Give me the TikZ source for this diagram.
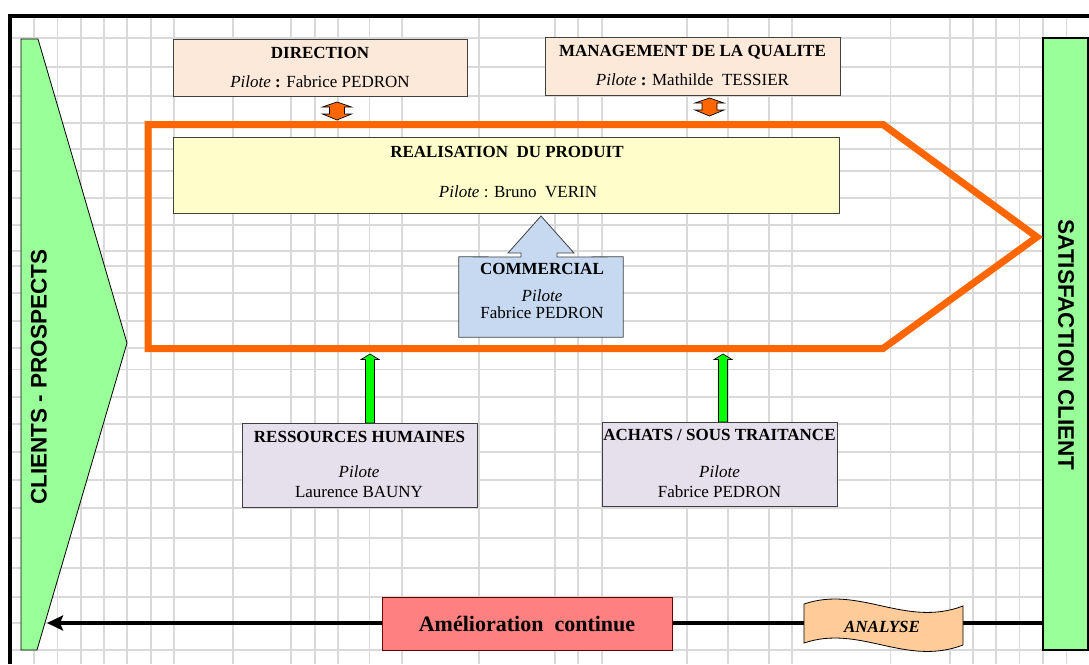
\documentclass[tikz,border=0pt]{standalone}
\usepackage{fontspec}
\setmainfont{Liberation Serif}
\newfontfamily\sidefont{Liberation Sans}
\usetikzlibrary{arrows.meta}

\definecolor{peach}{RGB}{253,233,217}
\definecolor{paleyellow}{RGB}{255,255,204}
\definecolor{paleblue}{RGB}{198,217,241}
\definecolor{lavender}{RGB}{229,224,236}
\definecolor{flashgreen}{RGB}{0,255,0}
\definecolor{lightgreen}{RGB}{153,255,153}
\definecolor{salmon}{RGB}{255,128,128}
\definecolor{apricot}{RGB}{255,204,153}
\definecolor{procorange}{RGB}{255,102,0}

\begin{document}
\begin{tikzpicture}[x=1pt, y=-1pt,
  gridline/.style = {draw=black!15, line width=1.8pt},
  box/.style = {draw=black!75, line width=0.8pt, inner sep=0pt},
  title/.style = {font=\fontsize{17}{20}\selectfont\bfseries, anchor=base, inner sep=0pt},
  pilot/.style = {font=\fontsize{17}{20}\selectfont, anchor=base, inner sep=0pt},
  side/.style = {font=\sidefont\fontsize{22.5}{26}\selectfont\bfseries, inner sep=0pt},
  uparrow/.style = {draw=black, fill=flashgreen, line width=0.7pt},
  dblarrow/.style = {draw=black, fill=procorange, line width=0.7pt}]

\useasboundingbox (0,0) rectangle (1089,664);
\fill[white] (0,0) rectangle (1089,664);

% grid
\foreach \x in {33.7,57.4,81,103.6,127.2,150.9,173.8,232.9,290.9,314.6,338.2,369.5,402.2,479,555,578,601.7,687.2,727.9,768.9,791.8,890.5,949.6,972.9,995.9,1019.5,1043.1,1066.4}
  \draw[gridline] (\x,17) -- (\x,664);
\foreach \y in {38.3,66.7,95.7,122.8,149.3,171,197.7,225,251,265.7,293.3,321,348.3,369.5,396.7,424,452,480,508,538,568,596.7,622.7,650}
  \draw[gridline] (12,\y) -- (1089,\y);
\draw[line width=4pt] (10,664) -- (10,15.5) -- (1089,15.5);

% clients / satisfaction
\draw[fill=lightgreen, line width=0.8pt] (21,39) -- (38,39) -- (127,343) -- (37,650) -- (21,650) -- cycle;
\node[side, rotate=90] (clients) at (39,377) {CLIENTS - PROSPECTS};
\coordinate (cltip) at (47,623);
\node[box, draw=black, line width=1.2pt, fill=lightgreen, minimum width=45, minimum height=612] (sat) at (1065.5,344) {};
\node[side, rotate=-90] (satlabel) at (1066,345) {SATISFACTION CLIENT};

% process frame
\draw[procorange, line width=7pt, line join=miter] (148,124.5) -- (883,124.5) -- (1037,237) -- (883,348.5) -- (148,348.5) -- cycle;

\node[box, fill=peach, minimum width=294, minimum height=57] (direction) at (320,67.5) {};
\node[title] (dirtitle) at (320,58) {DIRECTION};
\node[pilot] (dirpilot) at (320,87) {\textit{Pilote} \textbf{:} Fabrice PEDRON};
\draw[dblarrow] (337,102) -- (351.5,107) -- (344.5,107) -- (344.5,114) -- (351.5,114) -- (337,120)
  -- (322.5,114) -- (329.5,114) -- (329.5,107) -- (322.5,107) -- cycle;

\node[box, fill=peach, minimum width=295, minimum height=58] (quality) at (692.5,66) {};
\node[title] (qualtitle) at (692.5,56) {MANAGEMENT DE LA QUALITE};
\node[pilot] (qualpilot) at (692.5,85) {\textit{Pilote} \textbf{:} Mathilde\ \ TESSIER};
\draw[dblarrow] (709.5,98) -- (724,103) -- (717,103) -- (717,110) -- (724,110) -- (709.5,116)
  -- (695,110) -- (702,110) -- (702,103) -- (695,103) -- cycle;

\node[box, fill=paleyellow, minimum width=666, minimum height=76] (product) at (506,175) {};
\node[title] (prodtitle) at (507,157) {REALISATION\ \ DU PRODUIT};
\node[pilot] (prodpilot) at (518,197) {\textit{Pilote} : Bruno\ \ VERIN};

\node[inner sep=0pt, minimum width=164, minimum height=80] (sales) at (541,297) {};
\draw[box, fill=paleblue] (sales.south west) -- (sales.north west) -- (521,257) -- (521,253) -- (508,253)
  -- (541,216) -- (574,253) -- (557,253) -- (557,257) -- (sales.north east) -- (sales.south east) -- cycle;
\node[title] (salestitle) at (542,274) {COMMERCIAL};
\node[pilot] (salespilot) at (542,301) {\textit{Pilote}};
\node[pilot] (salesname) at (542,318) {Fabrice PEDRON};

% support processes
\draw[uparrow] (370,354) -- (379,359.5) -- (374.5,359.5) -- (374.5,423) -- (365.5,423) -- (365.5,359.5) -- (361,359.5) -- cycle;
\draw[uparrow] (723,354) -- (732,359.5) -- (727.5,359.5) -- (727.5,422) -- (718.5,422) -- (718.5,359.5) -- (714,359.5) -- cycle;

\node[box, fill=lavender, minimum width=235, minimum height=84] (hr) at (359.5,465) {};
\node[title] (hrtitle) at (359.5,442) {RESSOURCES HUMAINES};
\node[pilot] (hrpilot) at (359,477) {\textit{Pilote}};
\node[pilot] (hrname) at (359,497) {Laurence BAUNY};

\node[box, fill=lavender, minimum width=235, minimum height=84] (purchase) at (719.5,464) {};
\node[title] (purtitle) at (719.5,440) {ACHATS / SOUS TRAITANCE};
\node[pilot] (purpilot) at (719.5,477) {\textit{Pilote}};
\node[pilot] (purname) at (719.5,497) {Fabrice PEDRON};

% improvement loop
\draw[line width=4.5pt, -{Stealth[length=16pt, width=15pt, inset=3pt]}] (sat.west |- cltip) -- (cltip);

\node[box, draw=black!60!red, fill=salmon, minimum width=290, minimum height=53] (improve) at (527,623.5) {};
\node[title, font=\fontsize{22}{26}\selectfont\bfseries] (improvetext) at (527,631) {Amélioration\ \ continue};

\draw[fill=apricot, line width=0.8pt] (804,604) .. controls (860,585) and (905,628) .. (963,606)
  -- (963,645) .. controls (905,667) and (860,624) .. (804,643) -- cycle;
\node[title, font=\fontsize{17}{20}\selectfont\bfseries\itshape] (analysis) at (882,632) {ANALYSE};

\end{tikzpicture}
\end{document}
